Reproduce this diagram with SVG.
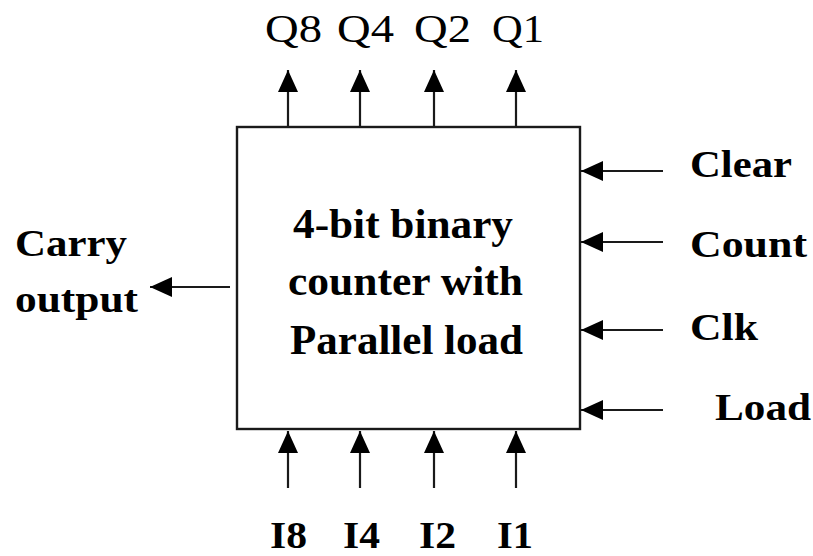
<svg xmlns="http://www.w3.org/2000/svg" width="813" height="556" viewBox="0 0 813 556">
  <style>
    .lbl { font-family: "Liberation Serif", "Times New Roman", serif; fill: #000; }
    .b { font-weight: bold; }
    .wire { stroke: #1a1a1a; stroke-width: 2.2; fill: none; }
    .box { stroke: #1a1a1a; stroke-width: 2.4; fill: #fff; }
  </style>
  <defs>
    <marker id="head" viewBox="0 0 22 20" refX="22" refY="10" markerWidth="22" markerHeight="20" markerUnits="userSpaceOnUse" orient="auto">
      <path d="M0,0 L22,10 L0,20 Z" fill="#000"/>
    </marker>
  </defs>

  <g id="counter">
    <rect class="box" x="237" y="127" width="343" height="302"/>
    <text class="lbl b" font-size="42" x="293" y="238" textLength="220" lengthAdjust="spacingAndGlyphs">4-bit binary</text>
    <text class="lbl b" font-size="42" x="288" y="295" textLength="235" lengthAdjust="spacingAndGlyphs">counter with</text>
    <text class="lbl b" font-size="42" x="290" y="354" textLength="233" lengthAdjust="spacingAndGlyphs">Parallel load</text>
  </g>

  <g id="connectors">
    <!-- outputs Q8..Q1 -->
    <line class="wire" x1="288" y1="127" x2="288" y2="70" marker-end="url(#head)"/>
    <line class="wire" x1="360" y1="127" x2="360" y2="70" marker-end="url(#head)"/>
    <line class="wire" x1="434" y1="127" x2="434" y2="70" marker-end="url(#head)"/>
    <line class="wire" x1="516" y1="127" x2="516" y2="70" marker-end="url(#head)"/>
    <!-- parallel inputs I8..I1 -->
    <line class="wire" x1="288" y1="488" x2="288" y2="431" marker-end="url(#head)"/>
    <line class="wire" x1="360" y1="488" x2="360" y2="431" marker-end="url(#head)"/>
    <line class="wire" x1="434" y1="488" x2="434" y2="431" marker-end="url(#head)"/>
    <line class="wire" x1="516" y1="488" x2="516" y2="431" marker-end="url(#head)"/>
    <!-- control inputs -->
    <line class="wire" x1="663" y1="171" x2="581" y2="171" marker-end="url(#head)"/>
    <line class="wire" x1="663" y1="242" x2="581" y2="242" marker-end="url(#head)"/>
    <line class="wire" x1="663" y1="330" x2="581" y2="330" marker-end="url(#head)"/>
    <line class="wire" x1="663" y1="410" x2="581" y2="410" marker-end="url(#head)"/>
    <!-- carry -->
    <line class="wire" x1="230" y1="287" x2="150" y2="287" marker-end="url(#head)"/>
  </g>

  <g id="out-q8"><text class="lbl" font-size="40" x="265" y="42" textLength="57" lengthAdjust="spacingAndGlyphs">Q8</text></g>
  <g id="out-q4"><text class="lbl" font-size="40" x="337" y="42" textLength="57" lengthAdjust="spacingAndGlyphs">Q4</text></g>
  <g id="out-q2"><text class="lbl" font-size="40" x="414" y="42" textLength="57" lengthAdjust="spacingAndGlyphs">Q2</text></g>
  <g id="out-q1"><text class="lbl" font-size="40" x="492" y="42" textLength="52" lengthAdjust="spacingAndGlyphs">Q1</text></g>

  <g id="in-i8"><text class="lbl b" font-size="38" x="270" y="548" textLength="37" lengthAdjust="spacingAndGlyphs">I8</text></g>
  <g id="in-i4"><text class="lbl b" font-size="38" x="343" y="548" textLength="37" lengthAdjust="spacingAndGlyphs">I4</text></g>
  <g id="in-i2"><text class="lbl b" font-size="38" x="419" y="548" textLength="37" lengthAdjust="spacingAndGlyphs">I2</text></g>
  <g id="in-i1"><text class="lbl b" font-size="38" x="497" y="548" textLength="36" lengthAdjust="spacingAndGlyphs">I1</text></g>

  <g id="clear"><text class="lbl b" font-size="38" x="690" y="177" textLength="102" lengthAdjust="spacingAndGlyphs">Clear</text></g>
  <g id="count"><text class="lbl b" font-size="38" x="690" y="257" textLength="117" lengthAdjust="spacingAndGlyphs">Count</text></g>
  <g id="clk"><text class="lbl b" font-size="38" x="690" y="340" textLength="68" lengthAdjust="spacingAndGlyphs">Clk</text></g>
  <g id="load"><text class="lbl b" font-size="38" x="715" y="420" textLength="96" lengthAdjust="spacingAndGlyphs">Load</text></g>

  <g id="carry">
    <text class="lbl b" font-size="38" x="15" y="256" textLength="112" lengthAdjust="spacingAndGlyphs">Carry</text>
    <text class="lbl b" font-size="38" x="15" y="312" textLength="123" lengthAdjust="spacingAndGlyphs">output</text>
  </g>
</svg>
